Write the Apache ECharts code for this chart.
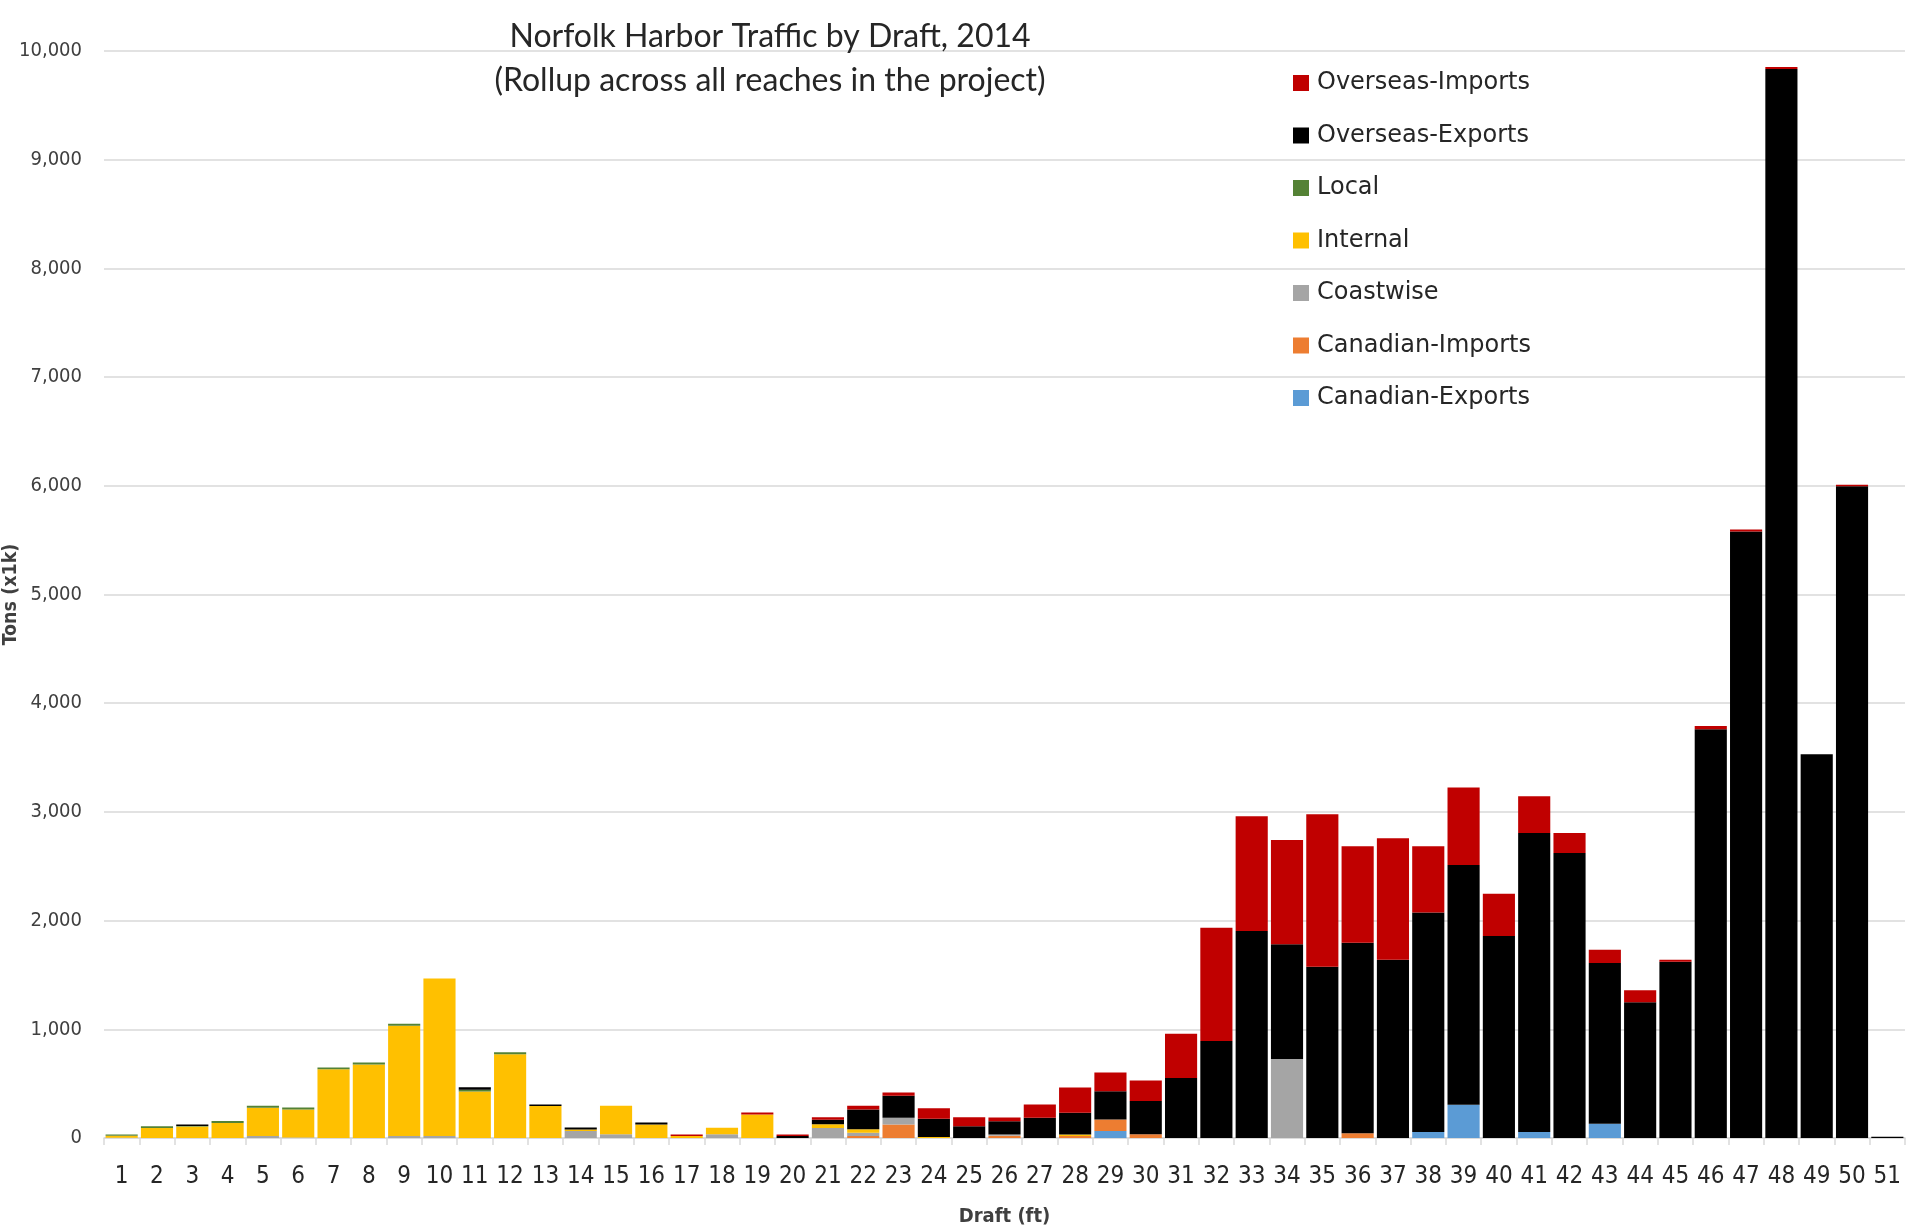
<!DOCTYPE html>
<html>
<head>
<meta charset="utf-8">
<script src="https://cdn.jsdelivr.net/npm/echarts@6/dist/echarts.min.js"></script>
<style>
html,body{margin:0;padding:0;background:#fff;}
#chart{width:1907px;height:1225px;}
</style>
</head>
<body>
<div id="chart"></div>
<script>
const categories = ['1','2','3','4','5','6','7','8','9','10','11','12','13','14','15','16','17','18','19','20','21','22','23','24','25','26','27','28','29','30','31','32','33','34','35','36','37','38','39','40','41','42','43','44','45','46','47','48','49','50','51'];

const canadianExports = [0,0,0,0,0,0,0,0,0,0, 0,0,0,0,0,0,0,0,0,0, 0,0,0,0,0,0,0,0,64,0, 0,0,0,0,0,0,0,55,305,0, 55,0,132,0,0,0,0,0,0,0, 0];
const canadianImports = [0,0,0,0,0,0,0,0,0,0, 0,0,0,0,0,0,0,0,0,0, 0,18,125,0,0,21,0,18,107,34, 0,0,0,0,0,43,0,0,0,0, 0,0,0,0,0,0,0,0,0,0, 0];
const coastwise = [3,0,0,0,18,5,0,0,18,18, 0,0,0,64,34,0,0,34,0,0, 92,31,61,0,0,12,0,0,0,0, 0,0,0,726,0,0,0,0,0,0, 0,0,0,0,0,0,0,0,0,0, 0];
const internal = [18,92,105,138,260,258,633,676,1015,1450, 428,771,294,15,263,125,18,61,217,0, 34,31,0,10,0,0,0,15,0,0, 0,0,0,0,0,0,0,0,0,0, 0,0,0,0,0,0,0,0,0,0, 0];
const local = [12,15,5,18,18,18,15,18,18,0, 15,18,0,0,0,0,0,0,0,0, 0,0,0,0,0,0,0,0,0,0, 0,0,0,0,0,0,0,0,0,0, 0,0,0,0,0,0,0,0,0,0, 0];
const overseasExports = [0,0,15,0,0,0,0,0,0,0, 24,0,15,18,0,18,0,0,0,18, 43,183,202,168,107,122,187,199,260,306, 553,892,1905,1056,1575,1754,1640,2019,2206,1858, 2751,2622,1477,1249,1622,3760,5580,9835,3530,5995, 12];
const overseasImports = [0,0,0,0,0,0,0,0,0,0, 0,0,0,0,0,0,15,0,18,15, 21,34,31,95,83,34,122,232,171,190, 407,1043,1055,960,1403,886,1117,609,714,388, 339,184,123,111,18,30,17,17,0,15, 0];

const yTicks = [0,1000,2000,3000,4000,5000,6000,7000,8000,9000,10000];

const seriesDefs = [
  {name:'Canadian-Exports', data:canadianExports, color:'#5B9BD5'},
  {name:'Canadian-Imports', data:canadianImports, color:'#ED7D31'},
  {name:'Coastwise', data:coastwise, color:'#A5A5A5'},
  {name:'Internal', data:internal, color:'#FFC000'},
  {name:'Local', data:local, color:'#548235'},
  {name:'Overseas-Exports', data:overseasExports, color:'#000000'},
  {name:'Overseas-Imports', data:overseasImports, color:'#C00000'}
];

const condensed = '"DejaVu Sans Condensed","Liberation Sans Narrow","Roboto Condensed",sans-serif';

const chart = echarts.init(document.getElementById('chart'), null, {renderer:'canvas'});
chart.setOption({
  animation:false,
  backgroundColor:'#ffffff',
  title:{
    text:'Norfolk Harbor Traffic by Draft, 2014\n(Rollup across all reaches in the project)',
    left:765, top:10, textAlign:'center',
    textStyle:{fontFamily:'Lato,sans-serif', fontSize:32, fontWeight:'normal', color:'#262626', lineHeight:44}
  },
  legend:{
    orient:'vertical', left:1288, top:65,
    itemWidth:16, itemHeight:16, itemGap:26.5,
    data:['Overseas-Imports','Overseas-Exports','Local','Internal','Coastwise','Canadian-Imports','Canadian-Exports'],
    icon:'rect',
    textStyle:{fontFamily:'"DejaVu Sans",sans-serif', fontSize:24, color:'#262626', lineHeight:26, padding:[0,0,0,3]}
  },
  grid:{left:104, right:2, top:51, bottom:87, containLabel:false, outerBoundsMode:'none'},
  xAxis:{
    type:'category', data:categories,
    name:'Draft (ft)', nameLocation:'middle', nameGap:69, nameMoveOverlap:false,
    nameTextStyle:{fontFamily:condensed, fontSize:20, fontWeight:'bold', color:'#404040'},
    axisLine:{lineStyle:{color:'#d9d9d9', width:1.5}},
    axisTick:{show:true, length:7, lineStyle:{color:'#d9d9d9', width:1.5}},
    axisLabel:{fontFamily:condensed, fontSize:24, color:'#262626', margin:27, interval:0}
  },
  yAxis:{
    type:'value', min:0, max:10000, interval:1000,
    name:'Tons (x1k)', nameLocation:'middle', nameGap:83, nameRotate:90, nameMoveOverlap:false,
    nameTextStyle:{fontFamily:condensed, fontSize:19.5, fontWeight:'bold', color:'#404040'},
    axisLine:{show:false}, axisTick:{show:false},
    splitLine:{lineStyle:{color:'#d9d9d9', width:1.5}},
    axisLabel:{fontFamily:condensed, fontSize:20, color:'#404040', margin:22,
      formatter:function(v){return yTicks.indexOf(v)>=0 ? v.toLocaleString('en-US') : '';}}
  },
  series:seriesDefs.map(s=>({
    name:s.name, type:'bar', stack:'total', data:s.data,
    barCategoryGap:'9%',
    itemStyle:{color:s.color},
    emphasis:{disabled:true}
  }))
});
</script>
</body>
</html>
